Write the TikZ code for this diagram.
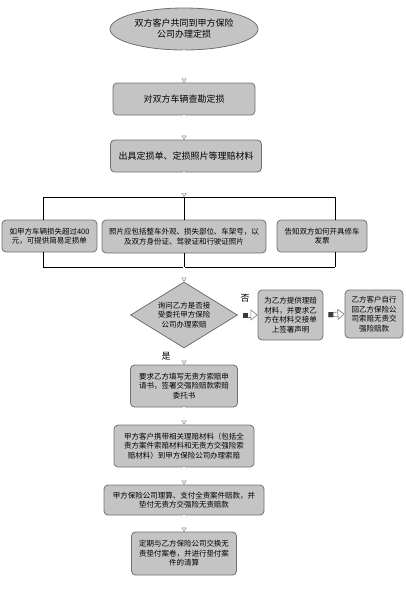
\documentclass[tikz,border=0pt]{standalone}
\usepackage{fontspec}
\setmainfont{Noto Sans CJK SC}
\usetikzlibrary{arrows.meta,positioning,shapes.geometric}
\definecolor{boxgray}{HTML}{C4C4C4}
\definecolor{edgegray}{HTML}{707070}
\definecolor{tipgray}{HTML}{7A7A7A}
\definecolor{taildark}{HTML}{3A3A3A}
\tikzset{
  flowbox/.style={draw=edgegray, fill=boxgray, rounded corners=4pt, line width=0.8pt,
                  align=center, inner sep=2pt, font=\fontsize{7.5}{9.5}\selectfont},
  bigbox/.style={flowbox, font=\fontsize{9}{11}\selectfont},
  startnode/.style={ellipse, draw=edgegray, fill=boxgray, line width=0.8pt, inner sep=0pt,
                    align=center, font=\fontsize{9}{11}\selectfont},
  asknode/.style={diamond, aspect=1.6, draw=edgegray, fill=boxgray, line width=0.8pt,
                  inner sep=0pt, align=center, font=\fontsize{7.5}{9.5}\selectfont},
  hollow/.style={draw=tipgray, line width=0.4pt, double=white, double distance=1.4pt,
                 -{Triangle[open, length=4pt, width=5pt]}},
  sidearr/.style={draw=tipgray, line width=0.6pt, double=white, double distance=3.8pt,
                  shorten <=5pt, -{Triangle[open, length=7pt, width=11pt]},
                  postaction={-, draw=taildark, line width=5pt, shorten <=5pt,
                              dash pattern=on 5pt off 300pt}},
  barline/.style={draw=black, line width=0.8pt},
  tag/.style={font=\fontsize{9}{11}\selectfont}}

\begin{document}
\begin{tikzpicture}[x=1pt, y=-1pt]
    \useasboundingbox (0,0) rectangle (406,590);
    \node[startnode, minimum width=148pt, minimum height=42pt] (start) at (184,29)
      {双方客户共同到甲方保险\\公司办理定损};
    \node[bigbox, minimum width=142pt, minimum height=32pt] (survey) at (184,99)
      {对双方车辆查勘定损};
    \node[bigbox, minimum width=151pt, minimum height=32pt] (docs) at (186,156)
      {出具定损单、定损照片等理赔材料};
    \node[flowbox, minimum width=95pt, minimum height=32pt] (limit) at (49.5,236)
      {如甲方车辆损失超过400\\元，可提供简易定损单};
    \node[flowbox, minimum width=164pt, minimum height=33pt] (photo) at (184,236.5)
      {照片应包括整车外观、损失部位、车架号，以\\及双方身份证、驾驶证和行驶证照片};
    \node[flowbox, minimum width=90pt, minimum height=32pt] (invoice) at (322,236)
      {告知双方如何开具修车\\发票};
    \node[asknode, minimum width=107pt, minimum height=66pt] (ask) at (184,315)
      {询问乙方是否接\\受委托甲方保险\\公司办理索赔};
    \node[flowbox, minimum width=65pt, minimum height=50pt] (provide) at (290.5,315)
      {为乙方提供理赔\\材料，并要求乙\\方在材料交接单\\上签署声明};
    \node[flowbox, minimum width=58pt, minimum height=48pt] (self) at (374,314)
      {乙方客户自行\\回乙方保险公\\司索赔无责交\\强险赔款};
    \node[flowbox, minimum width=107pt, minimum height=42pt] (sign) at (184,386)
      {要求乙方填写无责方索赔申\\请书，签署交强险赔款索赔\\委托书};
    \node[flowbox, minimum width=140pt, minimum height=42pt] (carry) at (184,446)
      {甲方客户携带相关理赔材料（包括全\\责方案件索赔材料和无责方交强险索\\赔材料）到甲方保险公司办理索赔};
    \node[flowbox, minimum width=160pt, minimum height=30pt] (pay) at (184,500)
      {甲方保险公司理算、支付全责案件赔款，并\\垫付无责方交强险无责赔款};
    \node[flowbox, minimum width=105pt, minimum height=43pt] (settle) at (184,553.5)
      {定期与乙方保险公司交换无\\责垫付案卷，并进行垫付案\\件的清算};
    \node[tag] (no) at (245,298) {否};
    \node[tag] (yes) at (166,356) {是};
    % split and join bars
    \coordinate (tl) at (43,197);
    \coordinate (tm) at (184,197);
    \coordinate (tr) at (335,197);
    \coordinate (bl) at (43,267);
    \coordinate (bm) at (184,267);
    \coordinate (br) at (335,267);
    \draw[barline] (tl) -- (tr);
    \draw[barline] (bl) -- (br);
    \draw[barline] (tl) -- (tl |- limit.north);
    \draw[barline] (tm) -- (photo.north);
    \draw[barline] (tr) -- (tr |- invoice.north);
    \draw[barline] (tl |- limit.south) -- (bl);
    \draw[barline] (photo.south) -- (bm);
    \draw[barline] (tr |- invoice.south) -- (br);
    % main flow
    \draw[hollow] (start) -- (survey);
    \draw[hollow] (survey) -- (survey |- docs.north);
    \draw[hollow] (survey |- docs.south) -- (tm);
    \draw[hollow] (bm) -- (ask.north);
    \draw[hollow] (ask.south) -- (sign.north);
    \draw[hollow] (sign) -- (carry);
    \draw[hollow] (carry) -- (pay);
    \draw[hollow] (pay) -- (settle);
    \draw[sidearr] (ask.east) -- (provide.west);
    \draw[sidearr] (provide.east) -- (self.west);
  \end{tikzpicture}
\end{document}
